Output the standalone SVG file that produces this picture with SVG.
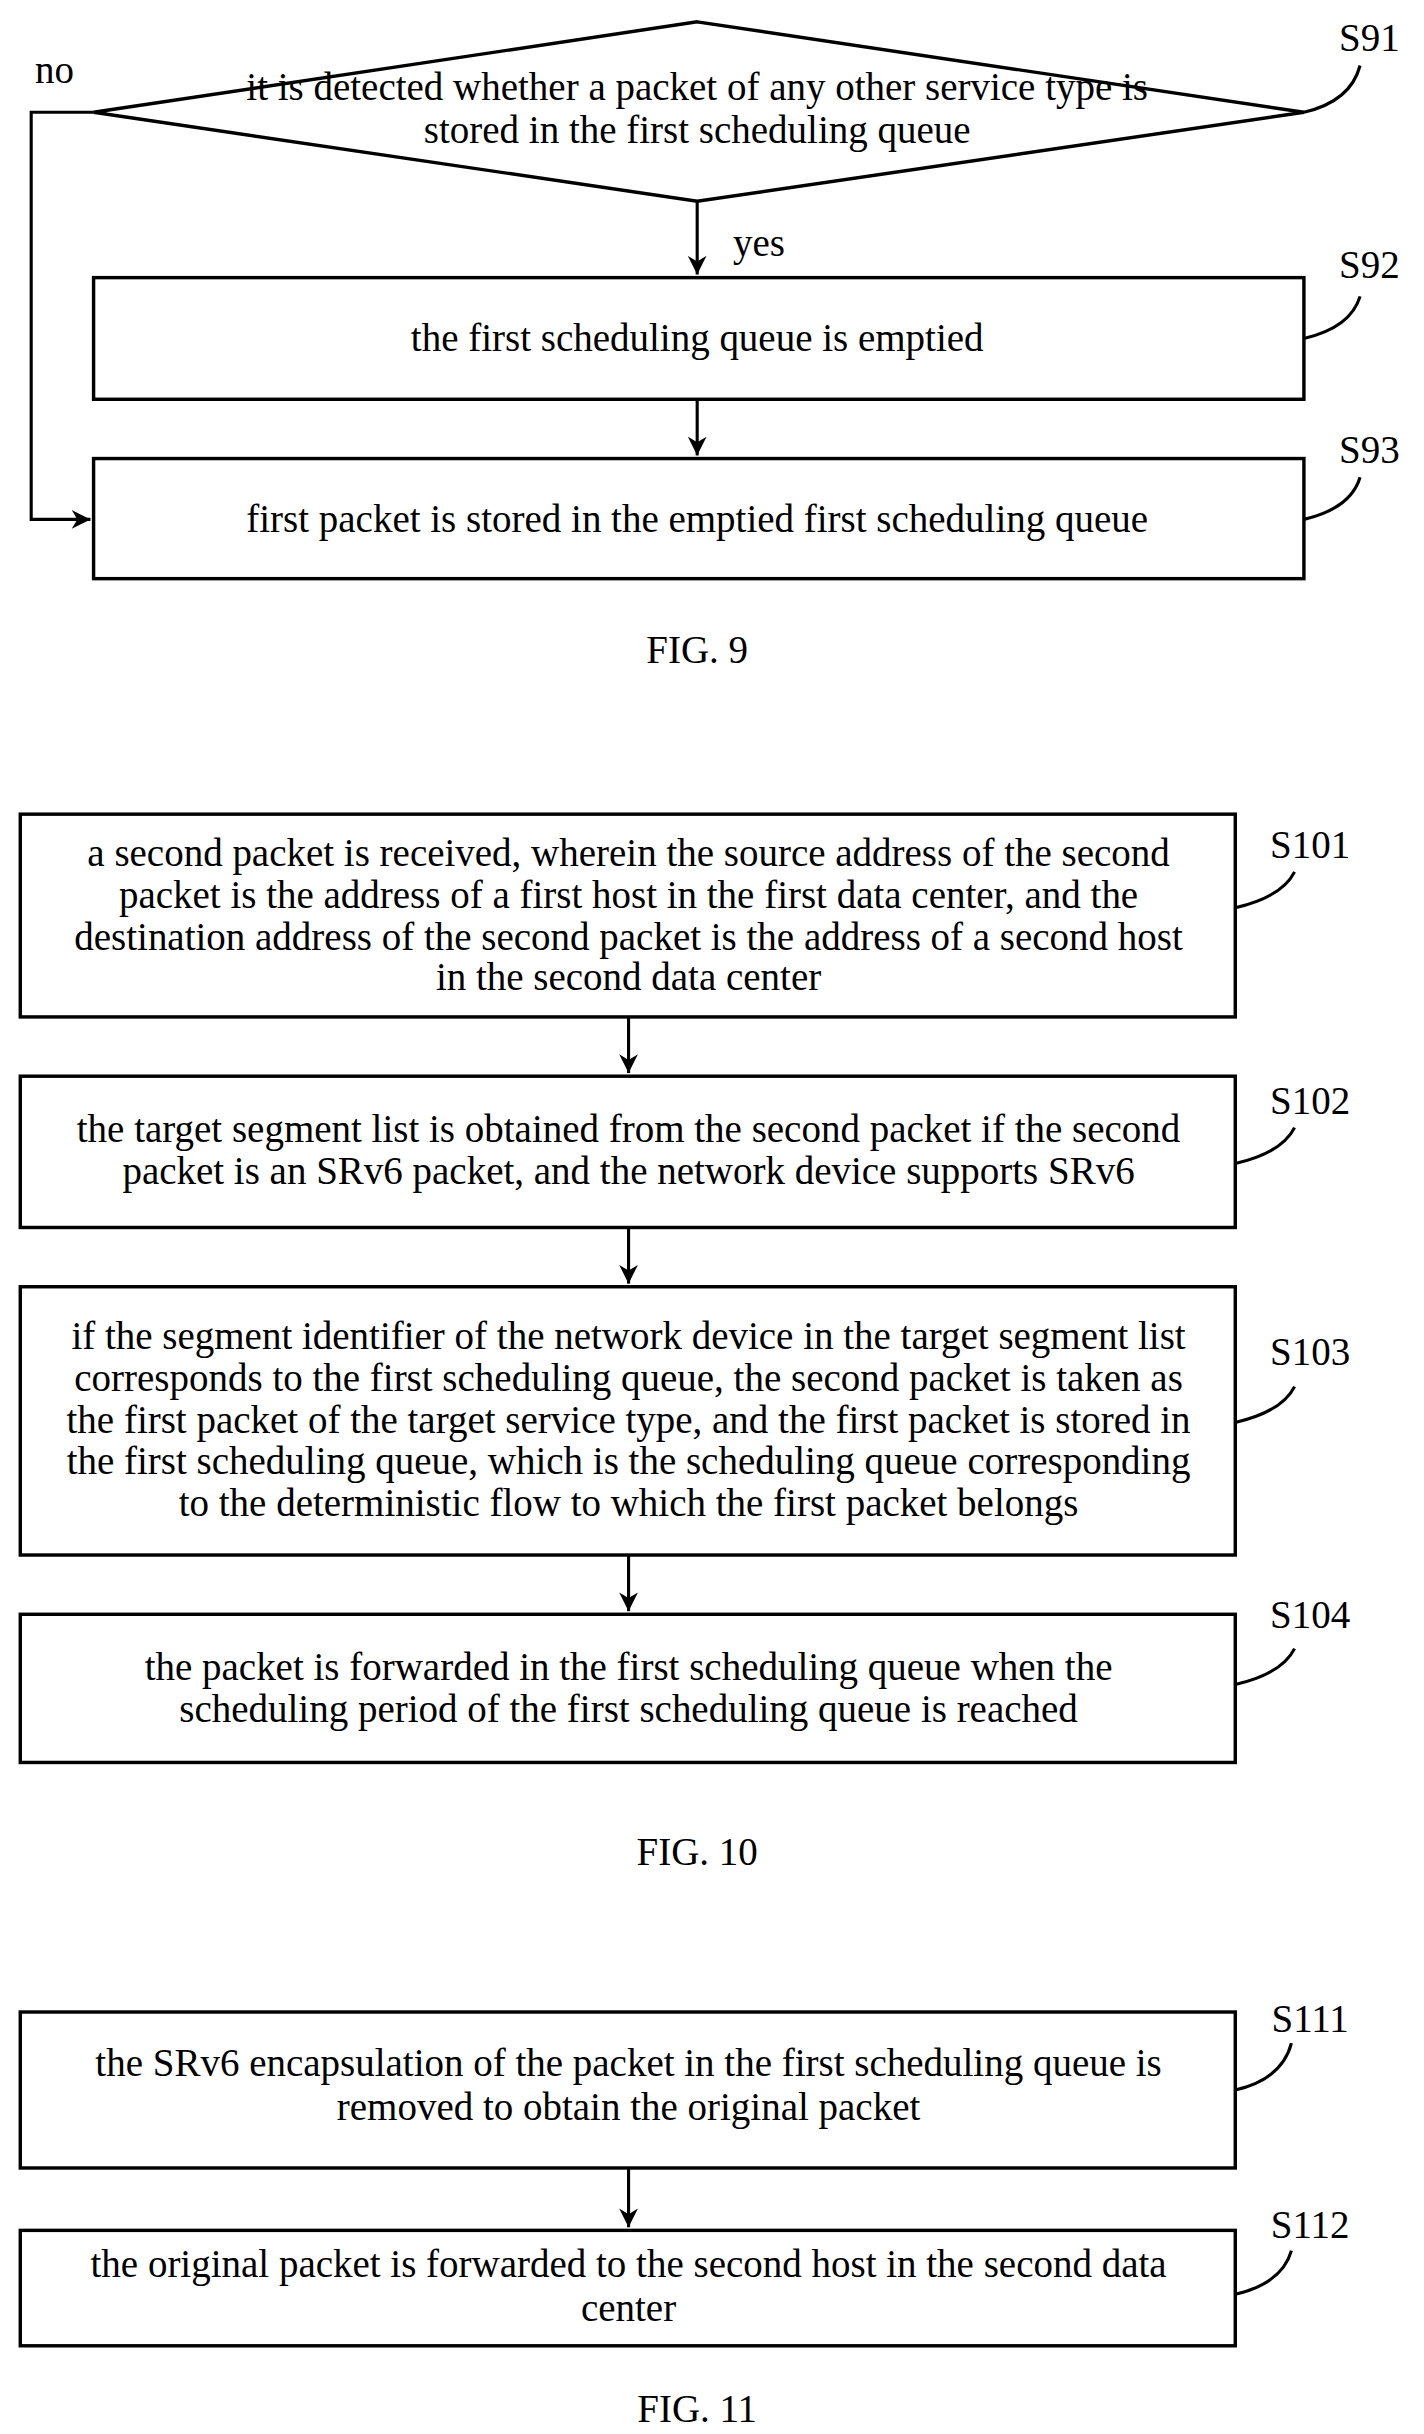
<svg xmlns="http://www.w3.org/2000/svg" width="1424" height="2434" viewBox="0 0 1424 2434">
<style>
text{font-family:"Liberation Serif","Times New Roman",serif;font-size:25px;fill:#000}
.c{text-anchor:middle}
.b{fill:#fff;stroke:#000;stroke-width:2.2}
.l{fill:none;stroke:#000;stroke-width:2}
</style>
<defs><marker id="a" viewBox="0 0 10 10" refX="10" refY="5" markerWidth="18" markerHeight="12" markerUnits="userSpaceOnUse" orient="auto"><path d="M0,0L10,5L0,10L3,5z" fill="#000"/></marker></defs>
<rect width="1424" height="2434" fill="#fff"/>
<g transform="scale(1.5597)">
<g id="connectors">
<path class="l" d="M60,72H20V333H58" marker-end="url(#a)"/>
<path class="l" d="M447,129V176" marker-end="url(#a)"/>
<path class="l" d="M447,256V292" marker-end="url(#a)"/>
<path class="l" d="M403,652V688" marker-end="url(#a)"/>
<path class="l" d="M403,787V823" marker-end="url(#a)"/>
<path class="l" d="M403,997V1033" marker-end="url(#a)"/>
<path class="l" d="M403,1390V1428" marker-end="url(#a)"/>
<text x="35" y="53" class="c">no</text>
<text x="470" y="164">yes</text>
</g>
<g id="S91"><path class="b" d="M447,14L836,72L447,129L60,72Z"/>
<text x="447" y="64" class="c">it is detected whether a packet of any other service type is</text>
<text x="447" y="92" class="c">stored in the first scheduling queue</text>
<path class="l" d="M836,72Q866,65 872,42"/><text x="878" y="33" class="c">S91</text></g>
<g id="S92"><rect class="b" x="60" y="178" width="776" height="78"/>
<text x="447" y="225" class="c">the first scheduling queue is emptied</text>
<path class="l" d="M836,217Q866,210 872,190"/><text x="878" y="178" class="c">S92</text></g>
<g id="S93"><rect class="b" x="60" y="294" width="776" height="77"/>
<text x="447" y="341" class="c">first packet is stored in the emptied first scheduling queue</text>
<path class="l" d="M836,333Q866,326 872,306"/><text x="878" y="297" class="c">S93</text></g>
<text x="447" y="425" class="c">FIG. 9</text>
<g id="S101"><rect class="b" x="13" y="522" width="779" height="130"/>
<text x="403" y="555" class="c">a second packet is received, wherein the source address of the second</text>
<text x="403" y="582" class="c">packet is the address of a first host in the first data center, and the</text>
<text x="403" y="609" class="c">destination address of the second packet is the address of a second host</text>
<text x="403" y="635" class="c">in the second data center</text>
<path class="l" d="M792,582Q822,575 830,559"/><text x="840" y="550" class="c">S101</text></g>
<g id="S102"><rect class="b" x="13" y="690" width="779" height="97"/>
<text x="403" y="732" class="c">the target segment list is obtained from the second packet if the second</text>
<text x="403" y="759" class="c">packet is an SRv6 packet, and the network device supports SRv6</text>
<path class="l" d="M792,746Q822,739 830,723"/><text x="840" y="714" class="c">S102</text></g>
<g id="S103"><rect class="b" x="13" y="825" width="779" height="172"/>
<text x="403" y="865" class="c">if the segment identifier of the network device in the target segment list</text>
<text x="403" y="892" class="c">corresponds to the first scheduling queue, the second packet is taken as</text>
<text x="403" y="919" class="c">the first packet of the target service type, and the first packet is stored in</text>
<text x="403" y="945" class="c">the first scheduling queue, which is the scheduling queue corresponding</text>
<text x="403" y="972" class="c">to the deterministic flow to which the first packet belongs</text>
<path class="l" d="M792,912Q822,905 830,889"/><text x="840" y="875" class="c">S103</text></g>
<g id="S104"><rect class="b" x="13" y="1035" width="779" height="95"/>
<text x="403" y="1077" class="c">the packet is forwarded in the first scheduling queue when the</text>
<text x="403" y="1104" class="c">scheduling period of the first scheduling queue is reached</text>
<path class="l" d="M792,1080Q822,1073 830,1057"/><text x="840" y="1044" class="c">S104</text></g>
<text x="447" y="1196" class="c">FIG. 10</text>
<g id="S111"><rect class="b" x="13" y="1290" width="779" height="100"/>
<text x="403" y="1331" class="c">the SRv6 encapsulation of the packet in the first scheduling queue is</text>
<text x="403" y="1359" class="c">removed to obtain the original packet</text>
<path class="l" d="M792,1340Q822,1333 828,1310"/><text x="840" y="1303" class="c">S111</text></g>
<g id="S112"><rect class="b" x="13" y="1430" width="779" height="74"/>
<text x="403" y="1460" class="c">the original packet is forwarded to the second host in the second data</text>
<text x="403" y="1488" class="c">center</text>
<path class="l" d="M792,1471Q822,1464 828,1443"/><text x="840" y="1435" class="c">S112</text></g>
<text x="447" y="1553" class="c">FIG. 11</text>
</g>
</svg>
